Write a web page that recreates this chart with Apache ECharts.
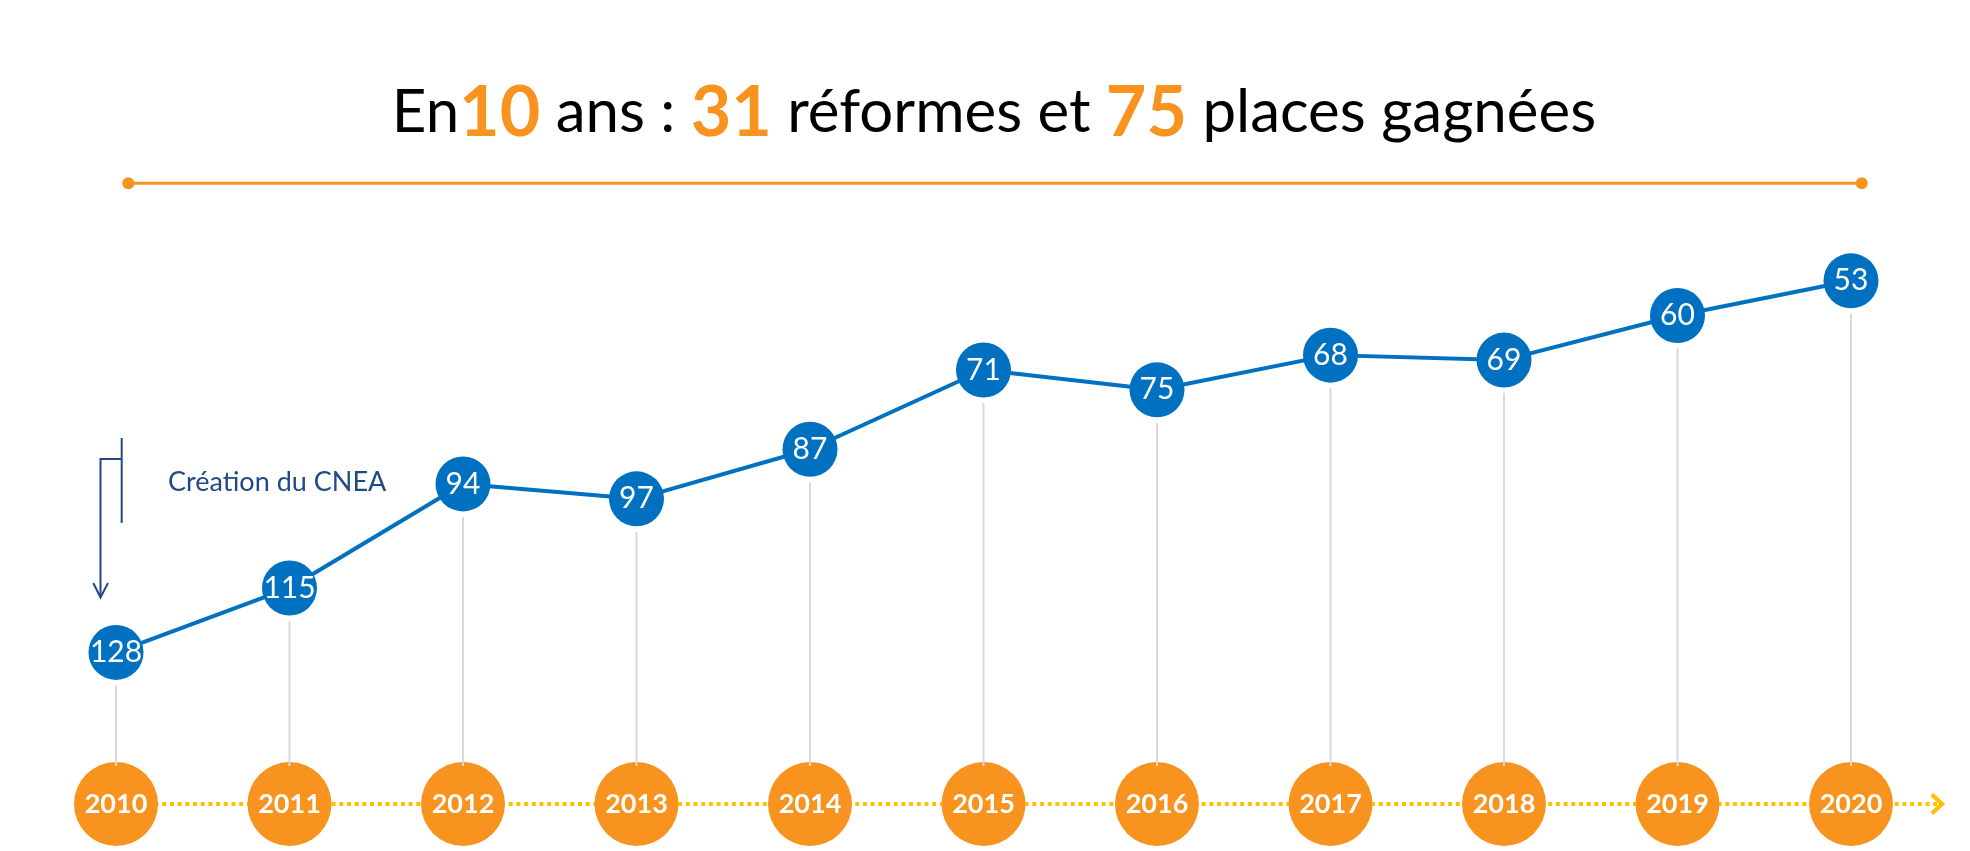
<!DOCTYPE html>
<html>
<head>
<meta charset="utf-8">
<style>
  html, body { margin: 0; padding: 0; background: #ffffff; }
  #chart { width: 1970px; height: 851px; }
</style>
<script src="https://cdn.jsdelivr.net/npm/echarts@6/dist/echarts.min.js"></script>
</head>
<body>
<div id="chart"></div>
<script>
// ---- data ----
const years = [2010, 2011, 2012, 2013, 2014, 2015, 2016, 2017, 2018, 2019, 2020];
const ranks = [128, 115, 94, 97, 87, 71, 75, 68, 69, 60, 53];
const headlineYears = '10';
const headlineReforms = '31';
const headlinePlaces = '75';
const annotationText = 'Création du CNEA';

// ---- styling constants ----
const BLUE = '#0070C0';
const ORANGE = '#F7931E';
const YELLOW = '#FFC000';
const NAVY = '#204A87';
const GREY = '#D9D9D9';
const Y_MIN = 40, Y_MAX = 158.6;

const chart = echarts.init(document.getElementById('chart'), null, { renderer: 'canvas' });

const lineData = years.map((y, i) => [y, ranks[i]]);

const option = {
  animation: false,
  backgroundColor: '#ffffff',
  grid: { left: 116, right: 32.25, top: 216.4, bottom: 47, containLabel: false },
  xAxis: {
    type: 'value',
    min: 2010,
    max: 2020.5,
    interval: 1,
    splitLine: { show: false },
    axisTick: { show: false },
    axisLine: {
      show: true,
      lineStyle: { color: YELLOW, width: 4, type: [4, 3.7], cap: 'butt' },
      symbol: ['none', 'path://M0,12 L11,0 L22,12 L19,15 L11,6 L3,15 Z'],
      symbolSize: [22, 19]
    },
    axisLabel: {
      show: true,
      showMaxLabel: false,
      showMinLabel: true,
      hideOverlap: false,
      margin: 0,
      formatter: v => (Number.isInteger(v) && years.indexOf(v) >= 0) ? String(v) : '',
      color: '#ffffff',
      fontFamily: 'Lato',
      fontWeight: 'bold',
      fontSize: 27,
      backgroundColor: ORANGE,
      borderRadius: 42,
      width: 84,
      height: 84,
      lineHeight: 84,
      align: 'center',
      verticalAlign: 'middle'
    }
  },
  yAxis: {
    type: 'value',
    inverse: true,
    min: Y_MIN,
    max: Y_MAX,
    show: false,
    splitLine: { show: false }
  },
  series: [
    {
      type: 'custom',
      z: 1,
      silent: true,
      data: lineData,
      renderItem: function (params, api) {
        const p = api.coord([api.value(0), api.value(1)]);
        const base = api.coord([api.value(0), Y_MAX]);
        return {
          type: 'line',
          shape: { x1: p[0], y1: p[1] + 33, x2: p[0], y2: base[1] - 38 },
          style: { stroke: GREY, lineWidth: 2 }
        };
      }
    },
    {
      type: 'line',
      z: 5,
      data: lineData,
      symbol: 'circle',
      symbolSize: 55,
      itemStyle: { color: BLUE },
      lineStyle: { color: BLUE, width: 4 },
      label: {
        show: true,
        position: 'inside',
        formatter: p => String(p.value[1]),
        color: '#ffffff',
        fontFamily: 'Lato',
        fontSize: 30
      }
    }
  ],
  graphic: [
    {
      type: 'text',
      x: 994,
      y: 113,
      style: {
        text: '{n|En}{b|' + headlineYears + '}{n| ans : }{b|' + headlineReforms + '}{n| réformes et }{b|' + headlinePlaces + '}{n| places gagnées}',
        align: 'center',
        verticalAlign: 'middle',
        rich: {
          n: { fontFamily: 'Lato', fontSize: 60, fill: '#000000', lineHeight: 76 },
          b: { fontFamily: 'Lato', fontSize: 70, fontWeight: 'bold', fill: ORANGE, lineHeight: 76 }
        }
      }
    },
    {
      type: 'line',
      shape: { x1: 128.3, y1: 183.3, x2: 1861.7, y2: 183.3 },
      style: { stroke: ORANGE, lineWidth: 3 }
    },
    { type: 'circle', shape: { cx: 128.3, cy: 183.3, r: 6 }, style: { fill: ORANGE } },
    { type: 'circle', shape: { cx: 1861.7, cy: 183.3, r: 6 }, style: { fill: ORANGE } },
    {
      type: 'polyline',
      shape: { points: [[121.7, 438], [121.7, 523]] },
      style: { stroke: NAVY, lineWidth: 2, fill: null }
    },
    {
      type: 'polyline',
      shape: { points: [[121.7, 459], [100.5, 459], [100.5, 597]] },
      style: { stroke: NAVY, lineWidth: 2, fill: null }
    },
    {
      type: 'polyline',
      shape: { points: [[93.3, 583], [100.5, 597.5], [108, 583]] },
      style: { stroke: NAVY, lineWidth: 2, fill: null }
    },
    {
      type: 'text',
      x: 168,
      y: 482,
      style: {
        text: annotationText,
        fontFamily: 'Lato',
        fontSize: 27,
        fill: NAVY,
        verticalAlign: 'middle',
        align: 'left'
      }
    }
  ]
};

chart.setOption(option);
</script>
</body>
</html>
